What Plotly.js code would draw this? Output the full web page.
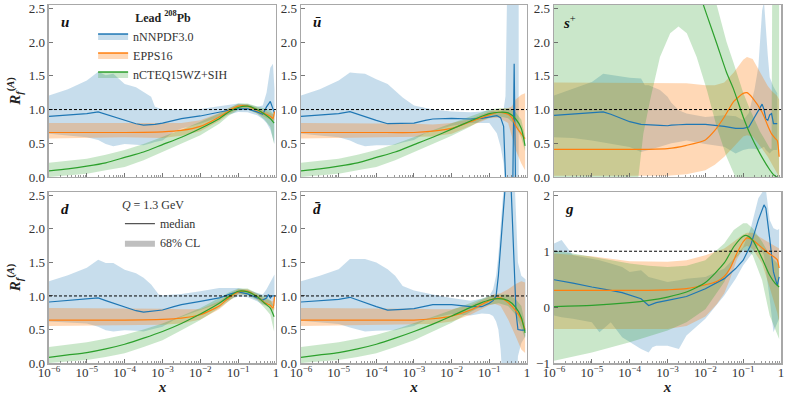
<!DOCTYPE html>
<html>
<head>
<meta charset="utf-8">
<script src="https://cdn.plot.ly/plotly-3.0.1.min.js"></script>
<style>
  html, body { margin: 0; padding: 0; background: #fff; }
  #plot { width: 789px; height: 395px; }
</style>
</head>
<body>
<div id="plot"></div>
<script>
// x values are stored as log10(x); ratios R_f^(A)

// ---- u ----
const uNN_x = [-6,-5.5,-5,-4.7,-4.5,-4.3,-4,-3.7,-3.5,-3.3,-3.2,-3,-2.7,-2.5,-2,-1.5,-1.25,-1,-0.75,-0.5,-0.35,-0.25,-0.15,-0.08,-0.04];
const uNN_mid = [0.90,0.915,0.94,0.965,0.93,0.89,0.84,0.79,0.77,0.775,0.78,0.80,0.84,0.865,0.905,0.965,0.99,1.01,1.01,0.965,0.93,1.04,1.12,1.01,0.95];
const uNN_hi = [1.21,1.30,1.43,1.56,1.51,1.53,1.38,1.33,1.26,1.19,1.04,1.0,1.0,1.0,1.01,1.05,1.07,1.09,1.08,1.04,1.06,1.25,1.62,1.68,1.3];
const uNN_lo = [0.64,0.62,0.59,0.55,0.49,0.455,0.49,0.48,0.47,0.50,0.52,0.54,0.67,0.72,0.79,0.89,0.93,0.965,0.96,0.915,0.86,0.80,0.70,0.55,0.49];

const uEP_x = [-6,-5,-4,-3,-2.5,-2,-1.5,-1.25,-1,-0.75,-0.5,-0.3,-0.15,-0.08,-0.04];
const uEP_mid = [0.66,0.66,0.66,0.67,0.69,0.75,0.89,0.98,1.05,1.05,0.99,0.94,0.90,0.87,0.97];
const uEP_hi = [0.80,0.80,0.80,0.79,0.80,0.84,0.95,1.02,1.08,1.08,1.03,0.99,0.95,0.93,1.0];
const uEP_lo = [0.57,0.58,0.59,0.58,0.61,0.68,0.83,0.93,1.01,1.01,0.95,0.89,0.85,0.82,0.85];

const uCT_x = [-6,-5.5,-5,-4.5,-4,-3.5,-3,-2.5,-2,-1.5,-1.25,-1,-0.75,-0.5,-0.3,-0.15,-0.05];
const uCT_mid = [0.09,0.12,0.16,0.21,0.29,0.37,0.48,0.59,0.72,0.865,0.965,1.03,1.05,1.0,0.93,0.865,0.80];
const uCT_hi = [0.21,0.24,0.27,0.33,0.40,0.49,0.59,0.70,0.82,0.94,1.02,1.09,1.09,1.05,1.02,0.99,0.915];
const uCT_lo = [0.0,0.02,0.05,0.10,0.15,0.25,0.37,0.49,0.62,0.79,0.91,0.99,1.0,0.94,0.85,0.74,0.49];

// ---- ubar ----
const ubNN_x = [-6,-5.5,-5,-4.7,-4.5,-4.3,-4,-3.7,-3.5,-3.3,-3,-2.7,-2.5,-2,-1.5,-1.2,-1,-0.8,-0.7,-0.62,-0.57,-0.52,-0.45,-0.38,-0.34,-0.3,-0.22];
const ubNN_mid = [0.90,0.915,0.94,0.97,0.93,0.89,0.84,0.79,0.79,0.795,0.80,0.84,0.86,0.87,0.86,0.87,0.89,0.91,0.88,0.75,0.0,-0.6,-0.6,-0.3,1.68,-0.3,-0.6];
const ubNN_hi = [1.21,1.30,1.43,1.55,1.54,1.53,1.45,1.38,1.28,1.18,1.06,1.02,1.0,0.97,0.96,0.97,0.99,0.97,0.95,1.0,1.2,3,3,3,3,3,3];
const ubNN_lo = [0.64,0.62,0.59,0.54,0.49,0.455,0.47,0.47,0.48,0.51,0.55,0.65,0.68,0.76,0.80,0.80,0.80,0.65,0.45,0.2,-0.5,-1,-1,-1,-1,-1,-1];

const ubEP_x = [-6,-5,-4,-3,-2.5,-2,-1.5,-1,-0.75,-0.5,-0.4,-0.3,-0.15,-0.05];
const ubEP_mid = [0.66,0.66,0.66,0.66,0.68,0.72,0.82,0.92,0.96,0.93,0.88,0.76,0.64,0.57];
const ubEP_hi = [0.80,0.80,0.80,0.79,0.78,0.80,0.86,0.97,1.01,1.02,1.05,1.15,1.22,1.24];
const ubEP_lo = [0.57,0.58,0.59,0.59,0.60,0.64,0.76,0.87,0.88,0.8,0.6,0.4,0.2,0.1];

const ubCT_x = [-6,-5.5,-5,-4.5,-4,-3.5,-3,-2.5,-2,-1.5,-1.25,-1,-0.75,-0.5,-0.3,-0.15,-0.05];
const ubCT_mid = [0.09,0.12,0.16,0.21,0.29,0.37,0.48,0.59,0.71,0.83,0.89,0.94,0.96,0.95,0.86,0.72,0.46];
const ubCT_hi = [0.21,0.24,0.27,0.33,0.40,0.49,0.59,0.70,0.80,0.90,0.95,1.0,1.02,1.02,0.96,0.85,0.6];
const ubCT_lo = [0.0,0.02,0.05,0.10,0.15,0.25,0.37,0.49,0.61,0.75,0.83,0.88,0.90,0.87,0.76,0.58,0.38];

// ---- s+ ----
const sNN_x = [-6,-5.5,-5,-4.7,-4.5,-4.2,-4,-3.7,-3.6,-3.5,-3.2,-3,-2.9,-2.7,-2.5,-2,-1.5,-1.2,-1,-0.85,-0.7,-0.6,-0.5,-0.45,-0.4,-0.35,-0.3,-0.25,-0.2,-0.1];
const sNN_mid = [0.915,0.93,0.95,0.965,0.93,0.865,0.82,0.78,0.775,0.77,0.765,0.76,0.77,0.775,0.78,0.78,0.75,0.72,0.72,0.74,0.89,1.0,1.08,1.0,0.86,0.84,0.92,0.94,0.79,0.79];
const sNN_hi = [1.21,1.31,1.41,1.53,1.51,1.49,1.47,1.46,1.36,1.36,1.29,1.19,1.10,0.99,0.94,0.89,0.915,0.9,0.84,0.95,1.3,1.63,2.47,2.6,2.13,1.8,1.48,1.4,1.34,1.24];
const sNN_lo = [0.59,0.58,0.54,0.51,0.49,0.46,0.445,0.37,0.38,0.40,0.45,0.49,0.5,0.52,0.54,0.49,0.45,0.35,0.40,0.42,0.42,0.40,0.44,0.45,0.4,0.37,0.35,0.38,0.4,0.40];

const sEP_x = [-6,-5,-4,-3.5,-3,-2.5,-2,-1.75,-1.5,-1.25,-1,-0.9,-0.75,-0.5,-0.35,-0.25,-0.15,-0.1,-0.05];
const sEP_mid = [0.41,0.41,0.41,0.41,0.42,0.47,0.55,0.69,0.89,1.12,1.24,1.25,1.17,0.96,0.76,0.64,0.57,0.54,0.30];
const sEP_hi = [1.40,1.40,1.40,1.40,1.40,1.39,1.36,1.36,1.40,1.55,1.74,1.78,1.75,1.50,1.35,1.28,1.22,1.2,1.15];
const sEP_lo = [0.02,0.02,0.02,0.02,0.02,0.04,0.1,0.18,0.3,0.45,0.6,0.62,0.6,0.42,0.3,0.2,0.1,0.05,0.0];

const sCT_x = [-6,-4,-3.8,-3.77,-3.64,-3.46,-3.2,-2.93,-2.71,-2.49,-2.23,-1.96,-1.70,-1.44,-1.26,-1,-0.82,-0.56,-0.29,-0.25,-0.19,-0.11,-0.05];
const sCT_mid = [6,5,4.8,4.7,4.6,4.4,4.1,3.7,3.4,3.25,2.84,2.4,1.98,1.55,1.31,0.89,0.64,0.35,0.1,0.07,0.03,0.0,-0.05];
const sCT_hi = [9,9,9,9,9,9,9,9,9,9,9,9,2.55,2.0,1.7,1.25,1.0,0.68,0.42,0.42,9,9,9];
const sCT_lo = [-3,-3,-3,0.0,0.64,1.14,1.78,2.13,2.23,2.13,1.78,1.29,0.74,0.3,0.05,-0.3,-0.5,-0.7,-0.9,-1,-1,-1,-1];

// ---- d ----
const dNN_x = [-6,-5.5,-5,-4.7,-4.5,-4.3,-4,-3.7,-3.5,-3.3,-3.1,-3,-2.7,-2.5,-2,-1.5,-1.2,-1,-0.75,-0.5,-0.35,-0.25,-0.2,-0.15,-0.1,-0.04];
const dNN_mid = [0.91,0.93,0.95,0.97,0.93,0.89,0.83,0.78,0.76,0.77,0.78,0.79,0.84,0.87,0.92,0.97,1.03,1.06,1.03,0.97,0.94,0.97,1.02,0.97,1.0,1.0];
const dNN_hi = [1.22,1.31,1.42,1.54,1.49,1.49,1.39,1.34,1.27,1.17,1.02,1.01,1.02,1.03,1.07,1.12,1.12,1.12,1.09,1.04,1.02,1.1,1.15,1.22,1.27,1.32];
const dNN_lo = [0.62,0.61,0.59,0.54,0.49,0.47,0.49,0.48,0.47,0.5,0.53,0.54,0.64,0.69,0.79,0.89,0.95,0.99,0.98,0.92,0.87,0.88,0.9,0.87,0.85,0.85];

const dEP_x = [-6,-5,-4,-3,-2.5,-2,-1.5,-1.25,-1,-0.75,-0.5,-0.3,-0.15,-0.08,-0.04];
const dEP_mid = [0.64,0.64,0.64,0.65,0.67,0.72,0.85,0.97,1.06,1.07,0.99,0.90,0.86,0.82,0.99];
const dEP_hi = [0.82,0.82,0.82,0.81,0.80,0.80,0.92,1.02,1.10,1.10,1.03,0.96,0.93,0.92,1.0];
const dEP_lo = [0.55,0.56,0.57,0.57,0.59,0.65,0.80,0.92,1.02,1.02,0.95,0.86,0.82,0.78,0.8];

const dCT_x = [-6,-5.5,-5,-4.5,-4,-3.5,-3,-2.5,-2,-1.5,-1.25,-1,-0.75,-0.5,-0.3,-0.15,-0.05];
const dCT_mid = [0.085,0.12,0.155,0.21,0.28,0.37,0.47,0.59,0.73,0.89,0.99,1.07,1.06,0.99,0.89,0.82,0.69];
const dCT_hi = [0.24,0.27,0.31,0.36,0.42,0.5,0.59,0.70,0.82,0.97,1.05,1.11,1.11,1.04,0.99,0.94,0.84];
const dCT_lo = [0.0,0.02,0.045,0.09,0.145,0.24,0.34,0.49,0.64,0.82,0.93,1.03,1.01,0.94,0.82,0.72,0.47];

// ---- dbar ----
const dbNN_x = [-6,-5.5,-5,-4.7,-4.5,-4.3,-4,-3.7,-3.5,-3.3,-3,-2.7,-2.5,-2,-1.5,-1.2,-1,-0.9,-0.82,-0.76,-0.7,-0.62,-0.5,-0.42,-0.35,-0.29,-0.24,-0.15,-0.04];
const dbNN_mid = [0.91,0.93,0.95,0.98,0.94,0.89,0.84,0.79,0.79,0.80,0.81,0.85,0.87,0.87,0.84,0.84,0.89,0.93,1.0,1.3,1.9,2.6,3.2,2.6,1.6,0.75,0.5,0.49,0.49];
const dbNN_hi = [1.22,1.30,1.40,1.55,1.55,1.55,1.50,1.40,1.30,1.15,1.08,1.04,1.02,0.97,0.93,0.96,1.0,1.1,1.3,1.6,2.2,3,3.5,3.5,3,2.2,1.5,1.3,1.25];
const dbNN_lo = [0.63,0.61,0.58,0.53,0.5,0.47,0.48,0.48,0.49,0.52,0.55,0.64,0.67,0.73,0.71,0.74,0.73,0.70,0.62,0.5,0.2,-0.5,-1,-1,-1,-0.5,0.1,0.3,0.4];

const dbEP_x = [-6,-5,-4,-3,-2.5,-2,-1.5,-1,-0.85,-0.7,-0.5,-0.3,-0.15,-0.05];
const dbEP_mid = [0.64,0.64,0.64,0.64,0.66,0.70,0.79,0.93,0.96,0.97,0.90,0.78,0.65,0.5];
const dbEP_hi = [0.82,0.82,0.82,0.81,0.80,0.80,0.86,1.0,1.03,1.04,1.1,1.18,1.22,1.2];
const dbEP_lo = [0.55,0.56,0.57,0.57,0.58,0.62,0.72,0.86,0.88,0.85,0.65,0.4,0.2,0.15];

const dbCT_x = [-6,-5.5,-5,-4.5,-4,-3.5,-3,-2.5,-2,-1.5,-1.25,-1,-0.75,-0.5,-0.3,-0.15,-0.05];
const dbCT_mid = [0.085,0.12,0.155,0.21,0.28,0.37,0.47,0.58,0.70,0.83,0.89,0.94,0.96,0.93,0.83,0.68,0.45];
const dbCT_hi = [0.24,0.27,0.31,0.36,0.42,0.5,0.59,0.69,0.79,0.89,0.95,1.0,1.02,1.02,0.95,0.85,0.58];
const dbCT_lo = [0.0,0.02,0.045,0.09,0.145,0.24,0.34,0.47,0.6,0.76,0.83,0.87,0.89,0.85,0.72,0.52,0.37];

// ---- g ----
const gNN_x = [-6,-5.8,-5.5,-5,-4.8,-4.5,-4.2,-4,-3.7,-3.5,-3.4,-3.3,-3,-2.7,-2.5,-2,-1.5,-1.2,-1,-0.8,-0.6,-0.45,-0.4,-0.3,-0.2,-0.1,-0.05];
const gNN_mid = [0.49,0.47,0.43,0.36,0.34,0.30,0.26,0.22,0.15,0.03,0.06,0.08,0.12,0.16,0.19,0.33,0.51,0.69,0.84,1.11,1.56,1.83,1.77,1.23,0.63,0.39,0.54];
const gNN_hi = [1.14,1.2,0.93,0.87,0.84,0.78,0.72,0.63,0.66,0.54,0.52,0.5,0.45,0.48,0.51,0.54,0.69,0.9,1.08,1.41,1.95,2.1,2.1,1.56,1.41,1.38,1.4];
const gNN_lo = [-0.15,-0.18,-0.21,-0.27,-0.45,-0.27,-0.54,-0.63,-0.75,-0.81,-0.72,-0.69,-0.69,-0.75,-0.51,-0.21,0.21,0.51,0.75,0.93,1.11,0.93,0.7,0.15,-0.45,-0.27,-0.2];

const gEP_x = [-6,-5,-4,-3.5,-3,-2.5,-2,-1.7,-1.5,-1.35,-1.17,-1,-0.9,-0.75,-0.5,-0.3,-0.15,-0.1,-0.05];
const gEP_mid = [0.30,0.30,0.30,0.30,0.31,0.33,0.40,0.46,0.55,0.69,0.96,1.17,1.24,1.20,1.06,0.95,0.88,0.85,0.70];
const gEP_hi = [0.96,0.91,0.82,0.81,0.81,0.84,0.93,1.0,1.05,1.12,1.22,1.30,1.33,1.33,1.23,1.15,1.1,1.08,1.05];
const gEP_lo = [-0.39,-0.39,-0.39,-0.39,-0.39,-0.34,-0.17,0.05,0.25,0.5,0.85,1.06,1.1,1.04,0.78,0.35,0.0,-0.1,-0.27];

const gCT_x = [-6,-5,-4,-3.5,-3,-2.5,-2,-1.5,-1.25,-1,-0.9,-0.75,-0.5,-0.3,-0.15,-0.05];
const gCT_mid = [0.01,0.03,0.08,0.12,0.18,0.27,0.44,0.79,1.08,1.27,1.28,1.2,0.87,0.57,0.42,0.36];
const gCT_hi = [1.02,0.90,0.78,0.74,0.72,0.74,0.84,1.14,1.38,1.5,1.5,1.41,1.17,0.93,0.81,0.75];
const gCT_lo = [-0.96,-0.81,-0.63,-0.52,-0.42,-0.27,-0.04,0.45,0.84,1.02,1.02,0.93,0.48,-0.15,-0.39,-0.57];

// legend / labels
const seriesNames = ["nNNPDF3.0", "EPPS16", "nCTEQ15WZ+SIH"];
const panelLabels = ["<b><i>u</i></b>", "<b><i>ū</i></b>", "<b><i>s</i></b><sup>+</sup>",
                     "<b><i>d</i></b>", "<b><i>d̄</i></b>", "<b><i>g</i></b>"];
const xTickVals = [1e-6, 1e-5, 1e-4, 1e-3, 1e-2, 1e-1, 1];
const xTickText = ["10<sup>−6</sup>", "10<sup>−5</sup>", "10<sup>−4</sup>", "10<sup>−3</sup>", "10<sup>−2</sup>", "10<sup>−1</sup>", "1"];
const yTickVals = [0, 0.5, 1, 1.5, 2, 2.5];
const gTickVals = [-1, 0, 1, 2];
const gTickText = ["−1", "0", "1", "2"];

const FONT = "Liberation Serif, DejaVu Serif, serif";
const lineColors = ["#1f77b4", "#ff7f0e", "#2ca02c"];
const fillColors = ["rgba(31,119,180,0.25)", "rgba(255,127,14,0.3)", "rgba(44,160,44,0.25)"];

const panelData = [
  [[uNN_x, uNN_lo, uNN_mid, uNN_hi], [uEP_x, uEP_lo, uEP_mid, uEP_hi], [uCT_x, uCT_lo, uCT_mid, uCT_hi]],
  [[ubNN_x, ubNN_lo, ubNN_mid, ubNN_hi], [ubEP_x, ubEP_lo, ubEP_mid, ubEP_hi], [ubCT_x, ubCT_lo, ubCT_mid, ubCT_hi]],
  [[sNN_x, sNN_lo, sNN_mid, sNN_hi], [sEP_x, sEP_lo, sEP_mid, sEP_hi], [sCT_x, sCT_lo, sCT_mid, sCT_hi]],
  [[dNN_x, dNN_lo, dNN_mid, dNN_hi], [dEP_x, dEP_lo, dEP_mid, dEP_hi], [dCT_x, dCT_lo, dCT_mid, dCT_hi]],
  [[dbNN_x, dbNN_lo, dbNN_mid, dbNN_hi], [dbEP_x, dbEP_lo, dbEP_mid, dbEP_hi], [dbCT_x, dbCT_lo, dbCT_mid, dbCT_hi]],
  [[gNN_x, gNN_lo, gNN_mid, gNN_hi], [gEP_x, gEP_lo, gEP_mid, gEP_hi], [gCT_x, gCT_lo, gCT_mid, gCT_hi]]
];

// panel placement (paper fractions)
const xDom = [[0.0621, 0.3498], [0.3815, 0.6679], [0.7022, 0.9899]];
const yDom = [[0.5519, 0.9873], [0.0810, 0.5139]];

const toX = (arr) => arr.map((v) => Math.pow(10, v));

const traces = [];
panelData.forEach((panel, p) => {
  const xa = p === 0 ? "x" : "x" + (p + 1);
  const ya = p === 0 ? "y" : "y" + (p + 1);
  // bands first
  panel.forEach(([lx, lo, mid, hi], s) => {
    const x = toX(lx);
    traces.push({ x: x, y: lo, xaxis: xa, yaxis: ya, mode: "lines", line: { width: 0 },
      showlegend: false, hoverinfo: "skip" });
    traces.push({ x: x, y: hi, xaxis: xa, yaxis: ya, mode: "lines", line: { width: 0 },
      fill: "tonexty", fillcolor: fillColors[s], showlegend: false, hoverinfo: "skip" });
  });
  // medians on top
  panel.forEach(([lx, lo, mid, hi], s) => {
    traces.push({ x: toX(lx), y: mid, xaxis: xa, yaxis: ya, mode: "lines",
      line: { color: lineColors[s], width: 1.2, shape: s === 0 ? "linear" : "spline", smoothing: 0.6 },
      showlegend: false });
  });
});

// legend entries (no data of their own)
seriesNames.forEach((name, s) => {
  traces.push({ x: [null], y: [null], mode: "lines", fill: "toself", fillcolor: fillColors[s],
    line: { color: lineColors[s], width: 1.5 }, name: name, legend: "legend" });
});
traces.push({ x: [null], y: [null], mode: "lines", line: { color: "#555", width: 1.2 },
  name: "median", legend: "legend2" });
traces.push({ x: [null], y: [null], mode: "lines", fill: "toself", fillcolor: "rgba(128,128,128,0.5)",
  line: { width: 0 }, name: "68% CL", legend: "legend2" });

const tickFont = { family: FONT, size: 13, color: "#333" };

const layout = {
  width: 789, height: 395,
  margin: { l: 0, r: 0, t: 0, b: 0 },
  paper_bgcolor: "#fff", plot_bgcolor: "#fff",
  font: { family: FONT, color: "#333" },
  showlegend: true,
  legend: {
    x: 0.118, y: 0.985, xanchor: "left", yanchor: "top", bgcolor: "rgba(0,0,0,0)",
    traceorder: "normal",
    font: { family: FONT, size: 12, color: "#333" },
    title: { text: "<b>Lead <sup>208</sup>Pb</b>", side: "top center", font: { family: FONT, size: 12, color: "#222" } },
    itemwidth: 30, tracegroupgap: 0
  },
  legend2: {
    x: 0.152, y: 0.51, xanchor: "left", yanchor: "top", bgcolor: "rgba(0,0,0,0)",
    traceorder: "normal",
    font: { family: FONT, size: 12, color: "#333" },
    title: { text: "<i>Q</i> = 1.3 GeV", font: { family: FONT, size: 12, color: "#333" } },
    itemwidth: 30, tracegroupgap: 0
  },
  shapes: [],
  annotations: []
};

const minorVals = [];
for (let k = -6; k < 0; k++) {
  for (let m = 2; m <= 9; m++) minorVals.push(m * Math.pow(10, k));
}

for (let p = 0; p < 6; p++) {
  const col = p % 3, row = Math.floor(p / 3);
  const sfx = p === 0 ? "" : String(p + 1);
  const isG = p === 5;
  const xa = {
    domain: xDom[col], anchor: "y" + sfx, type: "log", range: [-6, 0],
    showline: true, mirror: true, linecolor: "#a8a8a8", linewidth: 1.5,
    ticks: "inside", ticklen: 4, tickwidth: 0.8, tickcolor: "#555",
    tickmode: "array", tickvals: xTickVals, ticktext: xTickText,
    showticklabels: row === 1, tickfont: tickFont, ticklabelstandoff: -3,
    minor: { ticks: "inside", ticklen: 2, tickwidth: 0.6, tickcolor: "#555", tickmode: "array", tickvals: minorVals },
    showgrid: false, zeroline: false
  };
  if (row === 1) xa.title = { text: "<b><i>x</i></b>", font: { family: FONT, size: 15, color: "#222" }, standoff: 0 };
  layout["xaxis" + sfx] = xa;

  const ya = {
    domain: yDom[row], anchor: "x" + sfx,
    range: isG ? [-1, 2.06] : [0, 2.55],
    showline: true, mirror: true, linecolor: "#a8a8a8", linewidth: 1.5,
    ticks: "inside", ticklen: 4, tickwidth: 0.8, tickcolor: "#555",
    tickmode: "array", tickvals: isG ? gTickVals : yTickVals,
    ticktext: isG ? gTickText : yTickVals.map((v) => v.toFixed(1)),
    tickfont: tickFont, showgrid: false, zeroline: false
  };
  if (col === 0) ya.title = { text: "<b><i>R</i><sub><i>f</i></sub><sup>(<i>A</i>)</sup></b>",
      font: { family: FONT, size: 15, color: "#222" }, standoff: 4 };
  layout["yaxis" + sfx] = ya;

  layout.shapes.push({
    type: "line", xref: "x" + sfx + " domain", yref: "y" + sfx,
    x0: 0, x1: 1, y0: 1, y1: 1,
    line: { color: "#000", width: 1, dash: "3px,2px" }
  });
  layout.annotations.push({
    xref: "x" + sfx + " domain", yref: "y" + sfx + " domain", x: 0.07, y: 0.9,
    text: panelLabels[p], showarrow: false, xanchor: "center", yanchor: "middle",
    font: { family: FONT, size: 15, color: "#111" }
  });
}

Plotly.newPlot("plot", traces, layout, { displayModeBar: false, staticPlot: true });
</script>
</body>
</html>
